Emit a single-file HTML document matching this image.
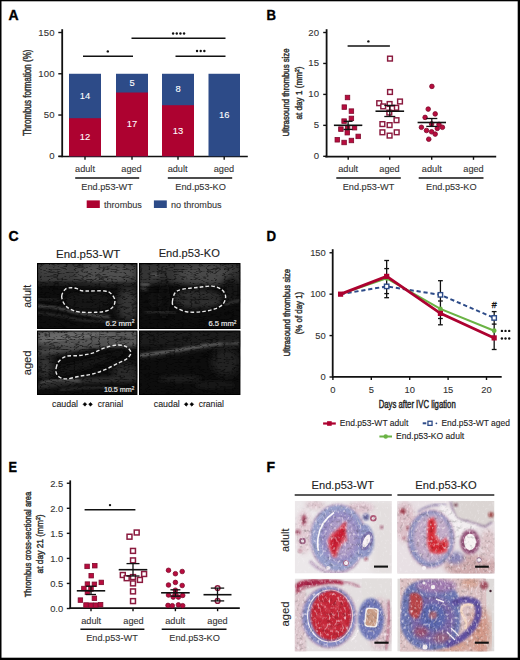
<!DOCTYPE html>
<html><head><meta charset="utf-8"><style>
html,body{margin:0;padding:0;background:#fff;width:520px;height:660px;overflow:hidden}
svg{display:block;font-family:"Liberation Sans",sans-serif}
</style></head><body>
<svg width="520" height="660" viewBox="0 0 520 660">
<defs><filter id="bl1" x="-20%" y="-20%" width="140%" height="140%"><feGaussianBlur stdDeviation="1"/></filter><filter id="bl2" x="-30%" y="-30%" width="160%" height="160%"><feGaussianBlur stdDeviation="2"/></filter><filter id="bl3" x="-40%" y="-40%" width="180%" height="180%"><feGaussianBlur stdDeviation="3.5"/></filter><filter id="bl5" x="-50%" y="-50%" width="200%" height="200%"><feGaussianBlur stdDeviation="5"/></filter><filter id="nz" x="0" y="0" width="100%" height="100%"><feTurbulence type="fractalNoise" baseFrequency="0.45" numOctaves="2" seed="7"/><feColorMatrix type="matrix" values="0 0 0 0 1 0 0 0 0 1 0 0 0 0 1 0 0 1.6 0 -0.75"/></filter><filter id="speck" x="0" y="0" width="100%" height="100%" color-interpolation-filters="sRGB"><feTurbulence type="turbulence" baseFrequency="0.12 0.3" numOctaves="2" seed="3" result="n00"/><feGaussianBlur in="n00" stdDeviation="0.5" result="n0"/><feColorMatrix in="n0" type="matrix" values="2.8 0 0 0 0.38 2.8 0 0 0 0.38 2.8 0 0 0 0.38 0 0 0 0 1" result="g"/><feComposite in="SourceGraphic" in2="g" operator="arithmetic" k1="1" k2="0" k3="0" k4="0"/></filter><filter id="nzk" x="0" y="0" width="100%" height="100%"><feTurbulence type="fractalNoise" baseFrequency="0.35" numOctaves="2" seed="11"/><feColorMatrix type="matrix" values="0 0 0 0 0 0 0 0 0 0 0 0 0 0 0 0 0 1.8 0 -0.8"/></filter><clipPath id="cp_c11"><rect x="37" y="263" width="100.5" height="66"/></clipPath><clipPath id="cp_c12"><rect x="139" y="263" width="101.5" height="66"/></clipPath><clipPath id="cp_c21"><rect x="37" y="330.5" width="100.5" height="64.5"/></clipPath><clipPath id="cp_c22"><rect x="139" y="330.5" width="101.5" height="64.5"/></clipPath><clipPath id="cp_f11"><rect x="294.7" y="501" width="97.1" height="72.5"/></clipPath><clipPath id="cp_f12"><rect x="397.3" y="501" width="97.2" height="72.5"/></clipPath><clipPath id="cp_f21"><rect x="294.7" y="578.5" width="97.1" height="73"/></clipPath><clipPath id="cp_f22"><rect x="397.3" y="578.5" width="97.2" height="73"/></clipPath><filter id="mot" x="0" y="0" width="100%" height="100%" color-interpolation-filters="sRGB"><feTurbulence type="fractalNoise" baseFrequency="0.3" numOctaves="2" seed="5" result="n0"/><feGaussianBlur in="n0" stdDeviation="0.4" result="n"/><feColorMatrix in="n" type="matrix" values="0.6 0 0 0 0.71 0.6 0 0 0 0.71 0.6 0 0 0 0.71 0 0 0 0 1" result="g"/><feComposite in="SourceGraphic" in2="g" operator="arithmetic" k1="1" k2="0" k3="0" k4="0" result="m"/><feTurbulence type="fractalNoise" baseFrequency="0.45 0.3" numOctaves="1" seed="8" result="n2"/><feColorMatrix in="n2" type="matrix" values="0 0 0 0 1 0 0 0 0 0.96 0 0 0 0 0.98 2.6 0 0 0 -1.45" result="w"/><feComposite in="w" in2="SourceAlpha" operator="in" result="w2"/><feMerge><feMergeNode in="m"/><feMergeNode in="w2"/></feMerge></filter><filter id="wsp" x="0" y="0" width="100%" height="100%"><feTurbulence type="fractalNoise" baseFrequency="0.4 0.3" numOctaves="2" seed="21"/><feColorMatrix type="matrix" values="0 0 0 0 1 0 0 0 0 0.97 0 0 0 0 1 2.2 0 0 0 -1.25"/></filter></defs>
<rect width="520" height="660" fill="#fff"/>
<text x="8.4" y="20.2" font-size="14" text-anchor="start" fill="#000" font-weight="bold" stroke="#000" stroke-width="0.35">A</text>
<text x="266.6" y="20.2" font-size="14" text-anchor="start" fill="#000" font-weight="bold" textLength="9.5" lengthAdjust="spacingAndGlyphs" stroke="#000" stroke-width="0.35">B</text>
<text x="8.5" y="240.6" font-size="14" text-anchor="start" fill="#000" font-weight="bold" stroke="#000" stroke-width="0.35">C</text>
<text x="266.6" y="240.5" font-size="14" text-anchor="start" fill="#000" font-weight="bold" textLength="9.6" lengthAdjust="spacingAndGlyphs" stroke="#000" stroke-width="0.35">D</text>
<text x="8.6" y="471.7" font-size="14" text-anchor="start" fill="#000" font-weight="bold" textLength="8.5" lengthAdjust="spacingAndGlyphs" stroke="#000" stroke-width="0.35">E</text>
<text x="266.6" y="471.7" font-size="14" text-anchor="start" fill="#000" font-weight="bold" stroke="#000" stroke-width="0.35">F</text>
<line x1="62.2" y1="29.2" x2="62.2" y2="157.2" stroke="#111" stroke-width="1.8" />
<line x1="58.5" y1="156.5" x2="247.8" y2="156.5" stroke="#111" stroke-width="1.7" />
<line x1="58.3" y1="156.3" x2="62" y2="156.3" stroke="#111" stroke-width="1.4" />
<text x="54.7" y="159.3" font-size="9.6" text-anchor="end" fill="#333" letter-spacing="0.15" stroke="#333" stroke-width="0.1">0</text>
<line x1="58.3" y1="115.03500000000001" x2="62" y2="115.03500000000001" stroke="#111" stroke-width="1.4" />
<text x="54.7" y="118.03500000000001" font-size="9.6" text-anchor="end" fill="#333" letter-spacing="0.15" stroke="#333" stroke-width="0.1">50</text>
<line x1="58.3" y1="73.77000000000001" x2="62" y2="73.77000000000001" stroke="#111" stroke-width="1.4" />
<text x="54.7" y="76.77000000000001" font-size="9.6" text-anchor="end" fill="#333" letter-spacing="0.15" stroke="#333" stroke-width="0.1">100</text>
<line x1="58.3" y1="32.50500000000001" x2="62" y2="32.50500000000001" stroke="#111" stroke-width="1.4" />
<text x="54.7" y="35.50500000000001" font-size="9.6" text-anchor="end" fill="#333" letter-spacing="0.15" stroke="#333" stroke-width="0.1">150</text>
<rect x="69" y="73.77000000000001" width="32" height="82.53" fill="#2d4b88" />
<rect x="69" y="118.20923076923077" width="32" height="38.09076923076924" fill="#ad0230" />
<text x="85.0" y="140.2546153846154" font-size="9.4" text-anchor="middle" fill="#fff"  stroke="#fff" stroke-width="0.1">12</text>
<text x="85.0" y="98.98961538461539" font-size="9.4" text-anchor="middle" fill="#fff"  stroke="#fff" stroke-width="0.1">14</text>
<rect x="116" y="73.77000000000001" width="32" height="82.53" fill="#2d4b88" />
<rect x="116" y="92.52681818181819" width="32" height="63.773181818181826" fill="#ad0230" />
<text x="132.0" y="127.4134090909091" font-size="9.4" text-anchor="middle" fill="#fff"  stroke="#fff" stroke-width="0.1">17</text>
<text x="132.0" y="86.1484090909091" font-size="9.4" text-anchor="middle" fill="#fff"  stroke="#fff" stroke-width="0.1">5</text>
<rect x="162" y="73.77000000000001" width="32" height="82.53" fill="#2d4b88" />
<rect x="162" y="105.21000000000001" width="32" height="51.09" fill="#ad0230" />
<text x="178.0" y="133.755" font-size="9.4" text-anchor="middle" fill="#fff"  stroke="#fff" stroke-width="0.1">13</text>
<text x="178.0" y="92.49000000000001" font-size="9.4" text-anchor="middle" fill="#fff"  stroke="#fff" stroke-width="0.1">8</text>
<rect x="208.5" y="73.77000000000001" width="31.5" height="82.53" fill="#2d4b88" />
<text x="224.25" y="118.03500000000001" font-size="9.4" text-anchor="middle" fill="#fff"  stroke="#fff" stroke-width="0.1">16</text>
<line x1="85" y1="156.5" x2="85" y2="159.8" stroke="#111" stroke-width="1.4" />
<line x1="132" y1="156.5" x2="132" y2="159.8" stroke="#111" stroke-width="1.4" />
<line x1="178" y1="156.5" x2="178" y2="159.8" stroke="#111" stroke-width="1.4" />
<line x1="224.2" y1="156.5" x2="224.2" y2="159.8" stroke="#111" stroke-width="1.4" />
<text x="85" y="172" font-size="9.2" text-anchor="middle" fill="#333"  stroke="#333" stroke-width="0.1">adult</text>
<text x="131.5" y="172" font-size="9.2" text-anchor="middle" fill="#333"  stroke="#333" stroke-width="0.1">aged</text>
<text x="177.6" y="172" font-size="9.2" text-anchor="middle" fill="#333"  stroke="#333" stroke-width="0.1">adult</text>
<text x="223.9" y="172" font-size="9.2" text-anchor="middle" fill="#333"  stroke="#333" stroke-width="0.1">aged</text>
<line x1="75.2" y1="178" x2="139.2" y2="178" stroke="#111" stroke-width="1.5" />
<line x1="167.8" y1="178" x2="232.2" y2="178" stroke="#111" stroke-width="1.5" />
<text x="107.1" y="190.3" font-size="9.2" text-anchor="middle" fill="#333"  stroke="#333" stroke-width="0.1">End.p53-WT</text>
<text x="200.6" y="190.3" font-size="9.2" text-anchor="middle" fill="#333"  stroke="#333" stroke-width="0.1">End.p53-KO</text>
<rect x="86.7" y="200.4" width="13.1" height="7.6" fill="#ad0230" />
<text x="104" y="207.6" font-size="9.1" text-anchor="start" fill="#333"  stroke="#333" stroke-width="0.1">thrombus</text>
<rect x="153.9" y="200.4" width="12.9" height="7.6" fill="#2d4b88" />
<text x="171" y="207.6" font-size="9.1" text-anchor="start" fill="#333"  stroke="#333" stroke-width="0.1">no thrombus</text>
<line x1="83" y1="56.2" x2="133" y2="56.2" stroke="#111" stroke-width="1.5" />
<line x1="131.5" y1="38.2" x2="225.5" y2="38.2" stroke="#111" stroke-width="1.5" />
<line x1="175.5" y1="56.2" x2="225.5" y2="56.2" stroke="#111" stroke-width="1.5" />
<circle cx="107.80" cy="51.4" r="1.2" fill="#111"/>
<circle cx="173.12" cy="33.5" r="1.2" fill="#111"/>
<circle cx="176.78" cy="33.5" r="1.2" fill="#111"/>
<circle cx="180.43" cy="33.5" r="1.2" fill="#111"/>
<circle cx="184.07" cy="33.5" r="1.2" fill="#111"/>
<circle cx="197.05" cy="51" r="1.2" fill="#111"/>
<circle cx="200.70" cy="51" r="1.2" fill="#111"/>
<circle cx="204.35" cy="51" r="1.2" fill="#111"/>
<text x="31" y="92.8" font-size="10" text-anchor="middle" fill="#333" textLength="86.5" lengthAdjust="spacingAndGlyphs" transform="rotate(-90 31 92.8)" stroke="#333" stroke-width="0.45">Thrombus formation (%)</text>
<line x1="326.6" y1="29.2" x2="326.6" y2="157.3" stroke="#111" stroke-width="1.8" />
<line x1="325.2" y1="156.6" x2="496.2" y2="156.6" stroke="#111" stroke-width="1.7" />
<line x1="323.2" y1="156.3" x2="326.6" y2="156.3" stroke="#111" stroke-width="1.4" />
<text x="319.3" y="159.3" font-size="9.6" text-anchor="end" fill="#333" letter-spacing="0.15" stroke="#333" stroke-width="0.1">0</text>
<line x1="323.2" y1="125.35000000000001" x2="326.6" y2="125.35000000000001" stroke="#111" stroke-width="1.4" />
<text x="319.3" y="128.35000000000002" font-size="9.6" text-anchor="end" fill="#333" letter-spacing="0.15" stroke="#333" stroke-width="0.1">5</text>
<line x1="323.2" y1="94.4" x2="326.6" y2="94.4" stroke="#111" stroke-width="1.4" />
<text x="319.3" y="97.4" font-size="9.6" text-anchor="end" fill="#333" letter-spacing="0.15" stroke="#333" stroke-width="0.1">10</text>
<line x1="323.2" y1="63.45" x2="326.6" y2="63.45" stroke="#111" stroke-width="1.4" />
<text x="319.3" y="66.45" font-size="9.6" text-anchor="end" fill="#333" letter-spacing="0.15" stroke="#333" stroke-width="0.1">15</text>
<line x1="323.2" y1="32.5" x2="326.6" y2="32.5" stroke="#111" stroke-width="1.4" />
<text x="319.3" y="35.5" font-size="9.6" text-anchor="end" fill="#333" letter-spacing="0.15" stroke="#333" stroke-width="0.1">20</text>
<line x1="348.2" y1="156.6" x2="348.2" y2="159.8" stroke="#111" stroke-width="1.4" />
<line x1="389.7" y1="156.6" x2="389.7" y2="159.8" stroke="#111" stroke-width="1.4" />
<line x1="431.7" y1="156.6" x2="431.7" y2="159.8" stroke="#111" stroke-width="1.4" />
<line x1="473.5" y1="156.6" x2="473.5" y2="159.8" stroke="#111" stroke-width="1.4" />
<text x="348.2" y="172.2" font-size="9.2" text-anchor="middle" fill="#333"  stroke="#333" stroke-width="0.1">adult</text>
<text x="389.5" y="172.2" font-size="9.2" text-anchor="middle" fill="#333"  stroke="#333" stroke-width="0.1">aged</text>
<text x="431.8" y="172.2" font-size="9.2" text-anchor="middle" fill="#333"  stroke="#333" stroke-width="0.1">adult</text>
<text x="473.5" y="172.2" font-size="9.2" text-anchor="middle" fill="#333"  stroke="#333" stroke-width="0.1">aged</text>
<line x1="336.3" y1="177.9" x2="400.8" y2="177.9" stroke="#111" stroke-width="1.5" />
<line x1="418.7" y1="177.9" x2="483.5" y2="177.9" stroke="#111" stroke-width="1.5" />
<text x="368.5" y="190.2" font-size="9.2" text-anchor="middle" fill="#333"  stroke="#333" stroke-width="0.1">End.p53-WT</text>
<text x="451.3" y="190.2" font-size="9.2" text-anchor="middle" fill="#333"  stroke="#333" stroke-width="0.1">End.p53-KO</text>
<text x="289.2" y="92.5" font-size="9.6" text-anchor="middle" fill="#333" textLength="88" lengthAdjust="spacingAndGlyphs" transform="rotate(-90 289.2 92.5)" stroke="#333" stroke-width="0.45">Ultrasound thrombus size</text>
<text x="302.4" y="93" font-size="9.6" text-anchor="middle" fill="#333" textLength="53" lengthAdjust="spacingAndGlyphs" transform="rotate(-90 302.4 93)" stroke="#333" stroke-width="0.45">at day 1 (mm<tspan font-size="6" dy="-3.5">2</tspan><tspan dy="3.5">)</tspan></text>
<line x1="347.6" y1="46.1" x2="389.9" y2="46.1" stroke="#111" stroke-width="1.5" />
<circle cx="368.40" cy="41.4" r="1.2" fill="#111"/>
<rect x="345.25" y="95.25" width="4.50" height="4.50" fill="#b80c3e" stroke="#7e0a2c" stroke-width="0.8"/>
<rect x="342.05" y="104.85" width="4.50" height="4.50" fill="#b80c3e" stroke="#7e0a2c" stroke-width="0.8"/>
<rect x="349.15" y="108.85" width="4.50" height="4.50" fill="#b80c3e" stroke="#7e0a2c" stroke-width="0.8"/>
<rect x="349.15" y="116.15" width="4.50" height="4.50" fill="#b80c3e" stroke="#7e0a2c" stroke-width="0.8"/>
<rect x="341.85" y="118.85" width="4.50" height="4.50" fill="#b80c3e" stroke="#7e0a2c" stroke-width="0.8"/>
<rect x="338.65" y="126.85" width="4.50" height="4.50" fill="#b80c3e" stroke="#7e0a2c" stroke-width="0.8"/>
<rect x="345.35" y="125.25" width="4.50" height="4.50" fill="#b80c3e" stroke="#7e0a2c" stroke-width="0.8"/>
<rect x="352.25" y="125.45" width="4.50" height="4.50" fill="#b80c3e" stroke="#7e0a2c" stroke-width="0.8"/>
<rect x="345.05" y="130.45" width="4.50" height="4.50" fill="#b80c3e" stroke="#7e0a2c" stroke-width="0.8"/>
<rect x="355.95" y="134.15" width="4.50" height="4.50" fill="#b80c3e" stroke="#7e0a2c" stroke-width="0.8"/>
<rect x="335.05" y="137.55" width="4.50" height="4.50" fill="#b80c3e" stroke="#7e0a2c" stroke-width="0.8"/>
<rect x="341.85" y="140.25" width="4.50" height="4.50" fill="#b80c3e" stroke="#7e0a2c" stroke-width="0.8"/>
<rect x="349.15" y="138.25" width="4.50" height="4.50" fill="#b80c3e" stroke="#7e0a2c" stroke-width="0.8"/>
<line x1="333.90000000000003" y1="125.3" x2="362.3" y2="125.3" stroke="#111" stroke-width="1.6" />
<line x1="348.1" y1="121.3" x2="348.1" y2="129.4" stroke="#111" stroke-width="1.3" />
<line x1="343.6" y1="121.3" x2="352.6" y2="121.3" stroke="#111" stroke-width="1.3" />
<line x1="343.6" y1="129.4" x2="352.6" y2="129.4" stroke="#111" stroke-width="1.3" />
<rect x="387.62" y="56.23" width="4.75" height="4.75" fill="#fff" stroke="#8a1a3e" stroke-width="1.45"/>
<rect x="387.62" y="89.62" width="4.75" height="4.75" fill="#fff" stroke="#8a1a3e" stroke-width="1.45"/>
<rect x="376.82" y="100.83" width="4.75" height="4.75" fill="#fff" stroke="#8a1a3e" stroke-width="1.45"/>
<rect x="397.62" y="99.12" width="4.75" height="4.75" fill="#fff" stroke="#8a1a3e" stroke-width="1.45"/>
<rect x="380.82" y="104.03" width="4.75" height="4.75" fill="#fff" stroke="#8a1a3e" stroke-width="1.45"/>
<rect x="387.23" y="101.62" width="4.75" height="4.75" fill="#fff" stroke="#8a1a3e" stroke-width="1.45"/>
<rect x="393.82" y="105.42" width="4.75" height="4.75" fill="#fff" stroke="#8a1a3e" stroke-width="1.45"/>
<rect x="389.73" y="105.92" width="4.75" height="4.75" fill="#fff" stroke="#8a1a3e" stroke-width="1.45"/>
<rect x="386.93" y="110.22" width="4.75" height="4.75" fill="#fff" stroke="#8a1a3e" stroke-width="1.45"/>
<rect x="394.12" y="117.83" width="4.75" height="4.75" fill="#fff" stroke="#8a1a3e" stroke-width="1.45"/>
<rect x="380.02" y="121.72" width="4.75" height="4.75" fill="#fff" stroke="#8a1a3e" stroke-width="1.45"/>
<rect x="387.23" y="122.72" width="4.75" height="4.75" fill="#fff" stroke="#8a1a3e" stroke-width="1.45"/>
<rect x="380.02" y="129.93" width="4.75" height="4.75" fill="#fff" stroke="#8a1a3e" stroke-width="1.45"/>
<rect x="394.32" y="129.93" width="4.75" height="4.75" fill="#fff" stroke="#8a1a3e" stroke-width="1.45"/>
<rect x="387.23" y="133.22" width="4.75" height="4.75" fill="#fff" stroke="#8a1a3e" stroke-width="1.45"/>
<line x1="375.5" y1="111.2" x2="404.1" y2="111.2" stroke="#111" stroke-width="1.6" />
<line x1="389.8" y1="105.4" x2="389.8" y2="116.5" stroke="#111" stroke-width="1.3" />
<line x1="384.3" y1="105.4" x2="395.3" y2="105.4" stroke="#111" stroke-width="1.3" />
<line x1="384.3" y1="116.5" x2="395.3" y2="116.5" stroke="#111" stroke-width="1.3" />
<circle cx="431.9" cy="86.4" r="2.30" fill="#b80c3e" stroke="#7e0a2c" stroke-width="0.8"/>
<circle cx="428.2" cy="109.1" r="2.30" fill="#b80c3e" stroke="#7e0a2c" stroke-width="0.8"/>
<circle cx="435.2" cy="113.9" r="2.30" fill="#b80c3e" stroke="#7e0a2c" stroke-width="0.8"/>
<circle cx="425.1" cy="117.4" r="2.30" fill="#b80c3e" stroke="#7e0a2c" stroke-width="0.8"/>
<circle cx="421.4" cy="127.3" r="2.30" fill="#b80c3e" stroke="#7e0a2c" stroke-width="0.8"/>
<circle cx="426.5" cy="130.5" r="2.30" fill="#b80c3e" stroke="#7e0a2c" stroke-width="0.8"/>
<circle cx="431.6" cy="131.8" r="2.30" fill="#b80c3e" stroke="#7e0a2c" stroke-width="0.8"/>
<circle cx="435.2" cy="134.1" r="2.30" fill="#b80c3e" stroke="#7e0a2c" stroke-width="0.8"/>
<circle cx="437.3" cy="128.4" r="2.30" fill="#b80c3e" stroke="#7e0a2c" stroke-width="0.8"/>
<circle cx="442.4" cy="127.3" r="2.30" fill="#b80c3e" stroke="#7e0a2c" stroke-width="0.8"/>
<circle cx="439" cy="124.4" r="2.30" fill="#b80c3e" stroke="#7e0a2c" stroke-width="0.8"/>
<circle cx="428.75" cy="139.2" r="2.30" fill="#b80c3e" stroke="#7e0a2c" stroke-width="0.8"/>
<circle cx="431.6" cy="123.9" r="2.30" fill="#b80c3e" stroke="#7e0a2c" stroke-width="0.8"/>
<line x1="417.6" y1="122.5" x2="446.0" y2="122.5" stroke="#111" stroke-width="1.6" />
<line x1="431.8" y1="118.5" x2="431.8" y2="126.4" stroke="#111" stroke-width="1.3" />
<line x1="426.3" y1="118.5" x2="437.3" y2="118.5" stroke="#111" stroke-width="1.3" />
<line x1="426.3" y1="126.4" x2="437.3" y2="126.4" stroke="#111" stroke-width="1.3" />
<text x="88.2" y="257.7" font-size="11.2" text-anchor="middle" fill="#222" textLength="64.3" lengthAdjust="spacingAndGlyphs"  stroke="#222" stroke-width="0.1">End.p53-WT</text>
<text x="189.3" y="257.0" font-size="11.2" text-anchor="middle" fill="#222" textLength="61.2" lengthAdjust="spacingAndGlyphs"  stroke="#222" stroke-width="0.1">End.p53-KO</text>
<text x="31.3" y="296.3" font-size="10.6" text-anchor="middle" fill="#222" transform="rotate(-90 31.3 296.3)"  stroke="#222" stroke-width="0.1">adult</text>
<text x="30.6" y="362.9" font-size="11.1" text-anchor="middle" fill="#222" transform="rotate(-90 30.6 362.9)"  stroke="#222" stroke-width="0.1">aged</text>
<text x="52" y="406.8" font-size="8.9" text-anchor="start" fill="#222" textLength="26" lengthAdjust="spacingAndGlyphs"  stroke="#222" stroke-width="0.1">caudal</text>
<path d="M83.00,404.3 L84.90,402.4 L86.80,404.3 L84.90,406.2 Z" fill="#000" stroke="#000" stroke-width="0.5" stroke-linejoin="round"/>
<path d="M88.60,404.3 L90.50,402.4 L92.40,404.3 L90.50,406.2 Z" fill="#000" stroke="#000" stroke-width="0.5" stroke-linejoin="round"/>
<text x="97.8" y="406.8" font-size="8.9" text-anchor="start" fill="#222" textLength="25.3" lengthAdjust="spacingAndGlyphs"  stroke="#222" stroke-width="0.1">cranial</text>
<text x="153.8" y="406.8" font-size="8.9" text-anchor="start" fill="#222" textLength="26" lengthAdjust="spacingAndGlyphs"  stroke="#222" stroke-width="0.1">caudal</text>
<path d="M184.30,404.3 L186.20,402.4 L188.10,404.3 L186.20,406.2 Z" fill="#000" stroke="#000" stroke-width="0.5" stroke-linejoin="round"/>
<path d="M189.90,404.3 L191.80,402.4 L193.70,404.3 L191.80,406.2 Z" fill="#000" stroke="#000" stroke-width="0.5" stroke-linejoin="round"/>
<text x="198.7" y="406.8" font-size="8.9" text-anchor="start" fill="#222" textLength="25.3" lengthAdjust="spacingAndGlyphs"  stroke="#222" stroke-width="0.1">cranial</text>
<line x1="332.7" y1="249.2" x2="332.7" y2="377.6" stroke="#111" stroke-width="1.8" />
<line x1="332.2" y1="376.9" x2="501.7" y2="376.9" stroke="#111" stroke-width="1.7" />
<line x1="329.5" y1="377.0" x2="333" y2="377.0" stroke="#111" stroke-width="1.4" />
<text x="325.8" y="380.3" font-size="9.4" text-anchor="end" fill="#333"  stroke="#333" stroke-width="0.1">0</text>
<line x1="329.5" y1="335.585" x2="333" y2="335.585" stroke="#111" stroke-width="1.4" />
<text x="325.8" y="338.885" font-size="9.4" text-anchor="end" fill="#333"  stroke="#333" stroke-width="0.1">50</text>
<line x1="329.5" y1="294.17" x2="333" y2="294.17" stroke="#111" stroke-width="1.4" />
<text x="325.8" y="297.47" font-size="9.4" text-anchor="end" fill="#333"  stroke="#333" stroke-width="0.1">100</text>
<line x1="329.5" y1="252.755" x2="333" y2="252.755" stroke="#111" stroke-width="1.4" />
<text x="325.8" y="256.055" font-size="9.4" text-anchor="end" fill="#333"  stroke="#333" stroke-width="0.1">150</text>
<line x1="332.9" y1="376.9" x2="332.9" y2="380" stroke="#111" stroke-width="1.4" />
<text x="332.9" y="393.2" font-size="9.4" text-anchor="middle" fill="#333"  stroke="#333" stroke-width="0.1">0</text>
<line x1="371.29999999999995" y1="376.9" x2="371.29999999999995" y2="380" stroke="#111" stroke-width="1.4" />
<text x="371.29999999999995" y="393.2" font-size="9.4" text-anchor="middle" fill="#333"  stroke="#333" stroke-width="0.1">5</text>
<line x1="409.7" y1="376.9" x2="409.7" y2="380" stroke="#111" stroke-width="1.4" />
<text x="409.7" y="393.2" font-size="9.4" text-anchor="middle" fill="#333"  stroke="#333" stroke-width="0.1">10</text>
<line x1="448.09999999999997" y1="376.9" x2="448.09999999999997" y2="380" stroke="#111" stroke-width="1.4" />
<text x="448.09999999999997" y="393.2" font-size="9.4" text-anchor="middle" fill="#333"  stroke="#333" stroke-width="0.1">15</text>
<line x1="486.5" y1="376.9" x2="486.5" y2="380" stroke="#111" stroke-width="1.4" />
<text x="486.5" y="393.2" font-size="9.4" text-anchor="middle" fill="#333"  stroke="#333" stroke-width="0.1">20</text>
<text x="417.2" y="407.5" font-size="10" text-anchor="middle" fill="#222" textLength="77" lengthAdjust="spacingAndGlyphs" stroke="#222" stroke-width="0.4">Days after IVC ligation</text>
<text x="290.2" y="312.7" font-size="9.6" text-anchor="middle" fill="#333" textLength="87.7" lengthAdjust="spacingAndGlyphs" transform="rotate(-90 290.2 312.7)" stroke="#333" stroke-width="0.45">Ultrasound thrombus size</text>
<text x="301.7" y="313" font-size="9.6" text-anchor="middle" fill="#333" textLength="42.5" lengthAdjust="spacingAndGlyphs" transform="rotate(-90 301.7 313)" stroke="#333" stroke-width="0.45">(% of day 1)</text>
<line x1="386.65999999999997" y1="260.5" x2="386.65999999999997" y2="297.7" stroke="#111" stroke-width="1.3" />
<line x1="384.26" y1="260.5" x2="389.05999999999995" y2="260.5" stroke="#111" stroke-width="1.3" />
<line x1="384.26" y1="297.7" x2="389.05999999999995" y2="297.7" stroke="#111" stroke-width="1.3" />
<line x1="384.26" y1="268.6" x2="389.05999999999995" y2="268.6" stroke="#111" stroke-width="1.3" />
<line x1="384.26" y1="293.6" x2="389.05999999999995" y2="293.6" stroke="#111" stroke-width="1.3" />
<line x1="440.41999999999996" y1="280.7" x2="440.41999999999996" y2="324.8" stroke="#111" stroke-width="1.3" />
<line x1="438.02" y1="280.7" x2="442.81999999999994" y2="280.7" stroke="#111" stroke-width="1.3" />
<line x1="438.02" y1="324.8" x2="442.81999999999994" y2="324.8" stroke="#111" stroke-width="1.3" />
<line x1="438.02" y1="301" x2="442.81999999999994" y2="301" stroke="#111" stroke-width="1.3" />
<line x1="438.02" y1="318.5" x2="442.81999999999994" y2="318.5" stroke="#111" stroke-width="1.3" />
<line x1="494.17999999999995" y1="311.6" x2="494.17999999999995" y2="349.5" stroke="#111" stroke-width="1.3" />
<line x1="491.78" y1="311.6" x2="496.5799999999999" y2="311.6" stroke="#111" stroke-width="1.3" />
<line x1="491.78" y1="349.5" x2="496.5799999999999" y2="349.5" stroke="#111" stroke-width="1.3" />
<line x1="491.78" y1="324.1" x2="496.5799999999999" y2="324.1" stroke="#111" stroke-width="1.3" />
<polyline points="340.58,294.17 386.66,286.38 440.42,294.83 494.18,317.94" fill="none" stroke="#2d4b88" stroke-width="2" stroke-dasharray="4.2,2.8"/>
<polyline points="340.58,294.17 386.66,278.27 440.42,308.91 494.18,330.70" fill="none" stroke="#6ab344" stroke-width="2"/>
<polyline points="340.58,294.17 386.66,276.36 440.42,313.39 494.18,337.90" fill="none" stroke="#ad0230" stroke-width="2.8"/>
<circle cx="386.65999999999997" cy="278.26664" r="2.4" fill="#6ab344"/>
<circle cx="440.41999999999996" cy="308.91373999999996" r="2.4" fill="#6ab344"/>
<circle cx="494.17999999999995" cy="330.69803" r="2.4" fill="#6ab344"/>
<rect x="384.46" y="284.18" width="4.4" height="4.4" fill="#fff" stroke="#2d4b88" stroke-width="1.4"/>
<rect x="438.22" y="292.63" width="4.4" height="4.4" fill="#fff" stroke="#2d4b88" stroke-width="1.4"/>
<rect x="491.98" y="315.74" width="4.4" height="4.4" fill="#fff" stroke="#2d4b88" stroke-width="1.4"/>
<rect x="337.98" y="291.57" width="5.2" height="5.2" fill="#ad0230"/>
<rect x="384.06" y="273.76" width="5.2" height="5.2" fill="#ad0230"/>
<rect x="437.82" y="310.79" width="5.2" height="5.2" fill="#ad0230"/>
<rect x="491.58" y="335.30" width="5.2" height="5.2" fill="#ad0230"/>
<text x="494.2" y="307.6" font-size="9" text-anchor="middle" fill="#111" stroke="#111" stroke-width="0.3">#</text>
<circle cx="501.9" cy="330.9" r="1.2" fill="#111"/>
<circle cx="505.5" cy="330.9" r="1.2" fill="#111"/>
<circle cx="509.2" cy="330.9" r="1.2" fill="#111"/>
<circle cx="501.9" cy="338.5" r="1.2" fill="#111"/>
<circle cx="505.5" cy="338.5" r="1.2" fill="#111"/>
<circle cx="509.2" cy="338.5" r="1.2" fill="#111"/>
<line x1="323.1" y1="423.5" x2="335.8" y2="423.5" stroke="#ad0230" stroke-width="2.2" />
<rect x="327.10" y="421.20" width="4.6" height="4.6" fill="#ad0230"/>
<text x="339.8" y="426.2" font-size="9" text-anchor="start" fill="#222" textLength="68.5" lengthAdjust="spacingAndGlyphs"  stroke="#222" stroke-width="0.1">End.p53-WT adult</text>
<line x1="422.7" y1="423.3" x2="426.3" y2="423.3" stroke="#2d4b88" stroke-width="2" />
<rect x="427.95" y="421.25" width="4.1000000000000005" height="4.1000000000000005" fill="#fff" stroke="#2d4b88" stroke-width="1.3"/>
<circle cx="436.4" cy="423.3" r="0.9" fill="#2d4b88"/>
<text x="441.4" y="426.1" font-size="9" text-anchor="start" fill="#222" textLength="68.5" lengthAdjust="spacingAndGlyphs"  stroke="#222" stroke-width="0.1">End.p53-WT aged</text>
<line x1="379.4" y1="436.5" x2="392" y2="436.5" stroke="#6ab344" stroke-width="2" />
<circle cx="385.7" cy="436.5" r="2.2" fill="#6ab344"/>
<text x="396" y="439.3" font-size="9" text-anchor="start" fill="#222" textLength="68.2" lengthAdjust="spacingAndGlyphs"  stroke="#222" stroke-width="0.1">End.p53-KO adult</text>
<line x1="70.2" y1="480.4" x2="70.2" y2="609" stroke="#111" stroke-width="1.8" />
<line x1="69.4" y1="608.2" x2="239.8" y2="608.2" stroke="#111" stroke-width="1.8" />
<line x1="66.8" y1="608.5" x2="70.2" y2="608.5" stroke="#111" stroke-width="1.4" />
<text x="63.2" y="611.8" font-size="9.4" text-anchor="end" fill="#333"  stroke="#333" stroke-width="0.1">0.0</text>
<line x1="66.8" y1="583.45" x2="70.2" y2="583.45" stroke="#111" stroke-width="1.4" />
<text x="63.2" y="586.75" font-size="9.4" text-anchor="end" fill="#333"  stroke="#333" stroke-width="0.1">0.5</text>
<line x1="66.8" y1="558.4" x2="70.2" y2="558.4" stroke="#111" stroke-width="1.4" />
<text x="63.2" y="561.6999999999999" font-size="9.4" text-anchor="end" fill="#333"  stroke="#333" stroke-width="0.1">1.0</text>
<line x1="66.8" y1="533.35" x2="70.2" y2="533.35" stroke="#111" stroke-width="1.4" />
<text x="63.2" y="536.65" font-size="9.4" text-anchor="end" fill="#333"  stroke="#333" stroke-width="0.1">1.5</text>
<line x1="66.8" y1="508.3" x2="70.2" y2="508.3" stroke="#111" stroke-width="1.4" />
<text x="63.2" y="511.6" font-size="9.4" text-anchor="end" fill="#333"  stroke="#333" stroke-width="0.1">2.0</text>
<line x1="66.8" y1="483.25" x2="70.2" y2="483.25" stroke="#111" stroke-width="1.4" />
<text x="63.2" y="486.55" font-size="9.4" text-anchor="end" fill="#333"  stroke="#333" stroke-width="0.1">2.5</text>
<line x1="91" y1="608" x2="91" y2="611.2" stroke="#111" stroke-width="1.4" />
<line x1="133" y1="608" x2="133" y2="611.2" stroke="#111" stroke-width="1.4" />
<line x1="175.4" y1="608" x2="175.4" y2="611.2" stroke="#111" stroke-width="1.4" />
<line x1="217.6" y1="608" x2="217.6" y2="611.2" stroke="#111" stroke-width="1.4" />
<text x="91.2" y="623.6" font-size="9.2" text-anchor="middle" fill="#333"  stroke="#333" stroke-width="0.1">adult</text>
<text x="133.5" y="623.6" font-size="9.2" text-anchor="middle" fill="#333"  stroke="#333" stroke-width="0.1">aged</text>
<text x="175.2" y="623.6" font-size="9.2" text-anchor="middle" fill="#333"  stroke="#333" stroke-width="0.1">adult</text>
<text x="217.5" y="623.6" font-size="9.2" text-anchor="middle" fill="#333"  stroke="#333" stroke-width="0.1">aged</text>
<line x1="80.4" y1="629.2" x2="144.4" y2="629.2" stroke="#111" stroke-width="1.5" />
<line x1="161.7" y1="629.2" x2="226.5" y2="629.2" stroke="#111" stroke-width="1.5" />
<text x="112" y="641.3" font-size="9.2" text-anchor="middle" fill="#333"  stroke="#333" stroke-width="0.1">End.p53-WT</text>
<text x="194.6" y="641.3" font-size="9.2" text-anchor="middle" fill="#333"  stroke="#333" stroke-width="0.1">End.p53-KO</text>
<text x="31.2" y="544.5" font-size="9.6" text-anchor="middle" fill="#333" textLength="105.7" lengthAdjust="spacingAndGlyphs" transform="rotate(-90 31.2 544.5)" stroke="#333" stroke-width="0.45">Thrombus cross-sectional area</text>
<text x="43.4" y="543.9" font-size="9.6" text-anchor="middle" fill="#333" textLength="59" lengthAdjust="spacingAndGlyphs" transform="rotate(-90 43.4 543.9)" stroke="#333" stroke-width="0.45">at day 21 (mm<tspan font-size="6" dy="-3.5">2</tspan><tspan dy="3.5">)</tspan></text>
<line x1="84.6" y1="509.8" x2="135.4" y2="509.8" stroke="#111" stroke-width="1.6" />
<circle cx="110.00" cy="505.1" r="1.2" fill="#111"/>
<rect x="84.85" y="564.15" width="4.50" height="4.50" fill="#b80c3e" stroke="#7e0a2c" stroke-width="0.8"/>
<rect x="92.55" y="563.45" width="4.50" height="4.50" fill="#b80c3e" stroke="#7e0a2c" stroke-width="0.8"/>
<rect x="88.95" y="573.45" width="4.50" height="4.50" fill="#b80c3e" stroke="#7e0a2c" stroke-width="0.8"/>
<rect x="99.05" y="580.15" width="4.50" height="4.50" fill="#b80c3e" stroke="#7e0a2c" stroke-width="0.8"/>
<rect x="85.15" y="581.85" width="4.50" height="4.50" fill="#b80c3e" stroke="#7e0a2c" stroke-width="0.8"/>
<rect x="92.15" y="582.05" width="4.50" height="4.50" fill="#b80c3e" stroke="#7e0a2c" stroke-width="0.8"/>
<rect x="81.65" y="586.25" width="4.50" height="4.50" fill="#b80c3e" stroke="#7e0a2c" stroke-width="0.8"/>
<rect x="85.15" y="590.15" width="4.50" height="4.50" fill="#b80c3e" stroke="#7e0a2c" stroke-width="0.8"/>
<rect x="92.15" y="596.05" width="4.50" height="4.50" fill="#b80c3e" stroke="#7e0a2c" stroke-width="0.8"/>
<rect x="78.15" y="597.85" width="4.50" height="4.50" fill="#b80c3e" stroke="#7e0a2c" stroke-width="0.8"/>
<rect x="83.75" y="602.75" width="4.50" height="4.50" fill="#b80c3e" stroke="#7e0a2c" stroke-width="0.8"/>
<rect x="88.65" y="602.95" width="4.50" height="4.50" fill="#b80c3e" stroke="#7e0a2c" stroke-width="0.8"/>
<rect x="93.55" y="602.95" width="4.50" height="4.50" fill="#b80c3e" stroke="#7e0a2c" stroke-width="0.8"/>
<rect x="98.35" y="602.45" width="4.50" height="4.50" fill="#b80c3e" stroke="#7e0a2c" stroke-width="0.8"/>
<rect x="88.75" y="586.75" width="4.50" height="4.50" fill="#b80c3e" stroke="#7e0a2c" stroke-width="0.8"/>
<line x1="76.8" y1="590.8" x2="105.2" y2="590.8" stroke="#111" stroke-width="1.6" />
<line x1="91" y1="586.2" x2="91" y2="594.5" stroke="#111" stroke-width="1.3" />
<line x1="86" y1="586.2" x2="96" y2="586.2" stroke="#111" stroke-width="1.3" />
<line x1="86" y1="594.5" x2="96" y2="594.5" stroke="#111" stroke-width="1.3" />
<rect x="134.25" y="530.05" width="4.9" height="4.9" fill="#fff" stroke="#8a1a3e" stroke-width="1.5"/>
<rect x="127.05" y="534.25" width="4.9" height="4.9" fill="#fff" stroke="#8a1a3e" stroke-width="1.5"/>
<rect x="130.55" y="548.45" width="4.9" height="4.9" fill="#fff" stroke="#8a1a3e" stroke-width="1.5"/>
<rect x="130.55" y="557.95" width="4.9" height="4.9" fill="#fff" stroke="#8a1a3e" stroke-width="1.5"/>
<rect x="120.35" y="572.55" width="4.9" height="4.9" fill="#fff" stroke="#8a1a3e" stroke-width="1.5"/>
<rect x="124.25" y="575.75" width="4.9" height="4.9" fill="#fff" stroke="#8a1a3e" stroke-width="1.5"/>
<rect x="130.55" y="574.65" width="4.9" height="4.9" fill="#fff" stroke="#8a1a3e" stroke-width="1.5"/>
<rect x="141.65" y="571.55" width="4.9" height="4.9" fill="#fff" stroke="#8a1a3e" stroke-width="1.5"/>
<rect x="137.45" y="577.45" width="4.9" height="4.9" fill="#fff" stroke="#8a1a3e" stroke-width="1.5"/>
<rect x="130.55" y="580.95" width="4.9" height="4.9" fill="#fff" stroke="#8a1a3e" stroke-width="1.5"/>
<rect x="130.55" y="588.95" width="4.9" height="4.9" fill="#fff" stroke="#8a1a3e" stroke-width="1.5"/>
<rect x="130.55" y="598.65" width="4.9" height="4.9" fill="#fff" stroke="#8a1a3e" stroke-width="1.5"/>
<line x1="118.7" y1="569.7" x2="147.3" y2="569.7" stroke="#111" stroke-width="1.6" />
<line x1="133" y1="563.6" x2="133" y2="576" stroke="#111" stroke-width="1.3" />
<line x1="126.5" y1="563.6" x2="139.5" y2="563.6" stroke="#111" stroke-width="1.3" />
<line x1="126.5" y1="576" x2="139.5" y2="576" stroke="#111" stroke-width="1.3" />
<circle cx="168.5" cy="570.3" r="2.30" fill="#b80c3e" stroke="#7e0a2c" stroke-width="0.8"/>
<circle cx="175.4" cy="573.7" r="2.30" fill="#b80c3e" stroke="#7e0a2c" stroke-width="0.8"/>
<circle cx="182.2" cy="571.5" r="2.30" fill="#b80c3e" stroke="#7e0a2c" stroke-width="0.8"/>
<circle cx="168.5" cy="585" r="2.30" fill="#b80c3e" stroke="#7e0a2c" stroke-width="0.8"/>
<circle cx="175.4" cy="582.4" r="2.30" fill="#b80c3e" stroke="#7e0a2c" stroke-width="0.8"/>
<circle cx="182.2" cy="585.5" r="2.30" fill="#b80c3e" stroke="#7e0a2c" stroke-width="0.8"/>
<circle cx="175.4" cy="590.2" r="2.30" fill="#b80c3e" stroke="#7e0a2c" stroke-width="0.8"/>
<circle cx="168.5" cy="595" r="2.30" fill="#b80c3e" stroke="#7e0a2c" stroke-width="0.8"/>
<circle cx="173.2" cy="597.1" r="2.30" fill="#b80c3e" stroke="#7e0a2c" stroke-width="0.8"/>
<circle cx="178.4" cy="597.1" r="2.30" fill="#b80c3e" stroke="#7e0a2c" stroke-width="0.8"/>
<circle cx="182.7" cy="595.4" r="2.30" fill="#b80c3e" stroke="#7e0a2c" stroke-width="0.8"/>
<circle cx="168" cy="605.4" r="2.30" fill="#b80c3e" stroke="#7e0a2c" stroke-width="0.8"/>
<circle cx="172.3" cy="605.7" r="2.30" fill="#b80c3e" stroke="#7e0a2c" stroke-width="0.8"/>
<circle cx="178.4" cy="604.9" r="2.30" fill="#b80c3e" stroke="#7e0a2c" stroke-width="0.8"/>
<circle cx="182.7" cy="605.7" r="2.30" fill="#b80c3e" stroke="#7e0a2c" stroke-width="0.8"/>
<circle cx="175.4" cy="594.5" r="2.30" fill="#b80c3e" stroke="#7e0a2c" stroke-width="0.8"/>
<line x1="161.1" y1="592.8" x2="189.70000000000002" y2="592.8" stroke="#111" stroke-width="1.6" />
<line x1="175.4" y1="589.8" x2="175.4" y2="596.2" stroke="#111" stroke-width="1.3" />
<line x1="170.4" y1="589.8" x2="180.4" y2="589.8" stroke="#111" stroke-width="1.3" />
<line x1="170.4" y1="596.2" x2="180.4" y2="596.2" stroke="#111" stroke-width="1.3" />
<circle cx="217.6" cy="588.1" r="2.4000000000000004" fill="#fff" stroke="#8a1a3e" stroke-width="1.4"/>
<circle cx="217.6" cy="600.9" r="2.4000000000000004" fill="#fff" stroke="#8a1a3e" stroke-width="1.4"/>
<line x1="203.5" y1="594.7" x2="231.5" y2="594.7" stroke="#111" stroke-width="1.6" />
<line x1="217.5" y1="588.1" x2="217.5" y2="600.9" stroke="#111" stroke-width="1.3" />
<line x1="210.8" y1="588.1" x2="224.2" y2="588.1" stroke="#111" stroke-width="1.3" />
<line x1="210.8" y1="600.9" x2="224.2" y2="600.9" stroke="#111" stroke-width="1.3" />
<text x="342.8" y="488.7" font-size="11" text-anchor="middle" fill="#222" textLength="62.4" lengthAdjust="spacingAndGlyphs"  stroke="#222" stroke-width="0.1">End.p53-WT</text>
<text x="446" y="488.6" font-size="11" text-anchor="middle" fill="#222" textLength="61.5" lengthAdjust="spacingAndGlyphs"  stroke="#222" stroke-width="0.1">End.p53-KO</text>
<line x1="294.7" y1="495" x2="391.8" y2="495" stroke="#222" stroke-width="1.6" />
<line x1="397.4" y1="495" x2="494.3" y2="495" stroke="#222" stroke-width="1.6" />
<text x="289.3" y="540.3" font-size="10.9" text-anchor="middle" fill="#222" transform="rotate(-90 289.3 540.3)"  stroke="#222" stroke-width="0.1">adult</text>
<text x="288.7" y="613.9" font-size="11.3" text-anchor="middle" fill="#222" transform="rotate(-90 288.7 613.9)"  stroke="#222" stroke-width="0.1">aged</text>
<g clip-path="url(#cp_c11)">
<g filter="url(#speck)">
<rect x="37" y="263" width="100.5" height="66" fill="#0d0d0d"/>

<rect x="37" y="263" width="101" height="21" fill="#3a3a3a" filter="url(#bl2)"/>
<ellipse cx="105" cy="273" rx="30" ry="10" fill="#505050" filter="url(#bl3)"/>
<ellipse cx="55" cy="268" rx="18" ry="5" fill="#444" filter="url(#bl3)"/>
<path d="M37,284 Q80,281 138,288" stroke="#181818" stroke-width="3" fill="none" filter="url(#bl2)"/>
<ellipse cx="128" cy="304" rx="11" ry="17" fill="#343434" filter="url(#bl3)"/>
<path d="M37,306 Q55,306.5 70,311 Q85,315 110,317" stroke="#5a5a5a" stroke-width="2" fill="none" filter="url(#bl1)"/>
<path d="M37,313 Q55,314 75,319 Q95,322 125,321" stroke="#303030" stroke-width="2" fill="none" filter="url(#bl1)"/>
<path d="M37,299 Q50,298 60,301" stroke="#333" stroke-width="1.5" fill="none" filter="url(#bl1)"/>
<ellipse cx="88" cy="301" rx="24" ry="9" fill="#161616" filter="url(#bl2)"/>

</g>
<path d="M61.70,296.20 C61.82,293.73 63.52,290.82 65.10,289.40 C66.68,287.98 69.18,287.82 71.20,287.70 C73.22,287.58 75.42,288.18 77.20,288.70 C78.98,289.22 79.77,290.42 81.90,290.80 C84.03,291.18 86.18,290.97 90.00,291.00 C93.82,291.03 101.32,290.58 104.80,291.00 C108.28,291.42 109.22,291.97 110.90,293.50 C112.58,295.03 114.57,297.97 114.90,300.20 C115.23,302.43 114.37,305.10 112.90,306.90 C111.43,308.70 109.02,310.10 106.10,311.00 C103.18,311.90 99.88,312.13 95.40,312.30 C90.92,312.47 83.47,312.57 79.20,312.00 C74.93,311.43 72.27,310.20 69.80,308.90 C67.33,307.60 65.75,306.32 64.40,304.20 C63.05,302.08 61.58,298.67 61.70,296.20 Z" fill="none" stroke="#e8e8e8" stroke-width="1.4" stroke-dasharray="3.6,2.2"/>
<rect x="37.5" y="263.5" width="99.5" height="65" fill="none" stroke="#000" stroke-width="1"/>
</g>
<text x="134.4" y="325.6" font-size="8" fill="#e8e8e8" stroke="#e8e8e8" stroke-width="0.2" text-anchor="end" textLength="29" lengthAdjust="spacingAndGlyphs">6.2 mm<tspan font-size="5" dy="-2.6">2</tspan></text>
<g clip-path="url(#cp_c12)">
<g filter="url(#speck)">
<rect x="139" y="263" width="101.5" height="66" fill="#0d0d0d"/>

<rect x="139" y="263" width="102" height="21" fill="#363636" filter="url(#bl2)"/>
<ellipse cx="205" cy="274" rx="28" ry="10" fill="#4a4a4a" filter="url(#bl3)"/>
<ellipse cx="232" cy="290" rx="8" ry="14" fill="#141414" filter="url(#bl3)"/>
<ellipse cx="164" cy="300" rx="6" ry="20" fill="#0c0c0c" filter="url(#bl3)"/>
<ellipse cx="155" cy="275" rx="4" ry="1.6" fill="#5a5a5a" filter="url(#bl1)"/>
<ellipse cx="145" cy="284.5" rx="5" ry="1.8" fill="#555" filter="url(#bl1)"/>
<ellipse cx="144" cy="289" rx="4" ry="1.5" fill="#404040" filter="url(#bl1)"/>
<ellipse cx="155" cy="300" rx="4" ry="5" fill="none" stroke="#262626" stroke-width="1.5" filter="url(#bl2)"/>
<path d="M145,312 Q160,311 176,313" stroke="#3a3a3a" stroke-width="1.6" fill="none" filter="url(#bl1)"/>
<ellipse cx="198" cy="299" rx="24" ry="10" fill="#2c2c2c" filter="url(#bl2)"/>
<path d="M178,296 Q200,293 222,296 M180,303 Q200,301 220,303" stroke="#3c3c3c" stroke-width="1.2" fill="none" filter="url(#bl1)"/>
<path d="M225,305 Q232,302 241,300" stroke="#303030" stroke-width="3" fill="none" filter="url(#bl1)"/>

</g>
<path d="M172.40,301.50 C172.70,299.37 173.42,294.85 175.10,292.80 C176.78,290.75 178.58,290.10 182.50,289.20 C186.42,288.30 193.67,287.92 198.60,287.40 C203.53,286.88 208.28,285.77 212.10,286.10 C215.92,286.43 219.25,287.72 221.50,289.40 C223.75,291.08 225.37,293.73 225.60,296.20 C225.83,298.67 224.70,302.08 222.90,304.20 C221.10,306.32 218.17,307.67 214.80,308.90 C211.43,310.13 207.18,311.08 202.70,311.60 C198.22,312.12 191.93,312.45 187.90,312.00 C183.87,311.55 180.93,309.97 178.50,308.90 C176.07,307.83 174.32,306.83 173.30,305.60 C172.28,304.37 172.10,303.63 172.40,301.50 Z" fill="none" stroke="#e8e8e8" stroke-width="1.4" stroke-dasharray="3.6,2.2"/>
<rect x="139.5" y="263.5" width="100.5" height="65" fill="none" stroke="#000" stroke-width="1"/>
</g>
<text x="236.4" y="326.4" font-size="8" fill="#e8e8e8" stroke="#e8e8e8" stroke-width="0.2" text-anchor="end" textLength="28" lengthAdjust="spacingAndGlyphs">6.5 mm<tspan font-size="5" dy="-2.6">2</tspan></text>
<g clip-path="url(#cp_c21)">
<g filter="url(#speck)">
<rect x="37" y="330.5" width="100.5" height="64.5" fill="#0d0d0d"/>

<rect x="37" y="330.5" width="101" height="16" fill="#626262" filter="url(#bl2)"/>
<ellipse cx="80" cy="338" rx="35" ry="6" fill="#6e6e6e" filter="url(#bl3)"/>
<path d="M37,353 Q70,349 100,343 T138,340" stroke="#505050" stroke-width="7" fill="none" filter="url(#bl2)"/>
<path d="M37,345 Q70,342 105,337" stroke="#3a3a3a" stroke-width="1.5" fill="none" filter="url(#bl1)"/>
<ellipse cx="45" cy="366" rx="8" ry="13" fill="#343434" filter="url(#bl3)"/>
<path d="M37,387 Q70,381 100,380 T137,377" stroke="#3e3e3e" stroke-width="4" fill="none" filter="url(#bl2)"/>
<path d="M40,383 Q60,378 80,381" stroke="#6a6a6a" stroke-width="1.6" fill="none" filter="url(#bl1)"/>
<path d="M60,390 Q90,386 120,388" stroke="#3a3a3a" stroke-width="1.5" fill="none" filter="url(#bl1)"/>
<ellipse cx="125" cy="372" rx="13" ry="9" fill="#2a2a2a" filter="url(#bl3)"/>
<path d="M59,366 Q80,362 125,350 L126,352 Q100,366 60,376 Z" fill="#121212" filter="url(#bl2)"/>

</g>
<path d="M56.20,367.80 C56.67,365.88 57.32,363.12 59.00,361.20 C60.68,359.28 62.90,357.25 66.30,356.30 C69.70,355.35 75.03,356.03 79.40,355.50 C83.77,354.97 88.42,354.32 92.50,353.10 C96.58,351.88 100.08,349.52 103.90,348.20 C107.72,346.88 111.85,345.53 115.40,345.20 C118.95,344.87 122.62,345.02 125.20,346.20 C127.78,347.38 130.63,350.20 130.90,352.30 C131.17,354.40 128.85,357.03 126.80,358.80 C124.75,360.57 122.13,361.13 118.60,362.90 C115.07,364.67 109.95,367.55 105.60,369.40 C101.25,371.25 96.87,372.85 92.50,374.00 C88.13,375.15 83.77,375.48 79.40,376.30 C75.03,377.12 69.70,378.82 66.30,378.90 C62.90,378.98 60.68,377.83 59.00,376.80 C57.32,375.77 56.67,374.20 56.20,372.70 C55.73,371.20 55.73,369.72 56.20,367.80 Z" fill="none" stroke="#e8e8e8" stroke-width="1.4" stroke-dasharray="3.6,2.2"/>
<rect x="37.5" y="331.0" width="99.5" height="63.5" fill="none" stroke="#000" stroke-width="1"/>
</g>
<text x="134.3" y="392.2" font-size="8" fill="#e8e8e8" stroke="#e8e8e8" stroke-width="0.2" text-anchor="end" textLength="30.4" lengthAdjust="spacingAndGlyphs">10.5 mm<tspan font-size="5" dy="-2.6">2</tspan></text>
<g clip-path="url(#cp_c22)">
<g filter="url(#speck)">
<rect x="139" y="330.5" width="101.5" height="64.5" fill="#0d0d0d"/>

<rect x="139" y="330.5" width="102" height="16" fill="#1e1e1e" filter="url(#bl2)"/>
<path d="M139,356 Q175,351.5 205,346 Q222,343.5 241,343.5" stroke="#2e2e2e" stroke-width="5" fill="none" filter="url(#bl2)"/>
<path d="M139,355.5 Q175,351 205,345.5 Q215,344 222,344" stroke="#8a8a8a" stroke-width="1.7" fill="none" filter="url(#bl1)"/>
<path d="M222,344 Q232,343 241,343" stroke="#5a5a5a" stroke-width="1.5" fill="none" filter="url(#bl1)"/>
<ellipse cx="226" cy="362" rx="14" ry="14" fill="#242424" filter="url(#bl3)"/>
<ellipse cx="180" cy="379" rx="22" ry="3" fill="#232323" filter="url(#bl2)"/>
<ellipse cx="215" cy="385" rx="20" ry="3" fill="#1e1e1e" filter="url(#bl2)"/>

</g>
<rect x="139.5" y="331.0" width="100.5" height="63.5" fill="none" stroke="#000" stroke-width="1"/>
</g>
<g clip-path="url(#cp_f11)">
<rect x="294.7" y="501" width="97.1" height="72.5" fill="#ece8ea"/>
<rect x="372" y="501" width="23" height="73" fill="#e3dede" filter="url(#bl3)"/>
<g filter="url(#mot)">

<ellipse cx="304" cy="532" rx="8" ry="22" fill="#e2ccd4" filter="url(#bl2)"/>
<ellipse cx="304" cy="520" rx="2.2" ry="5.5" fill="#a44a64" filter="url(#bl1)"/>
<circle cx="298" cy="532" r="2.6" fill="#a85a72" filter="url(#bl1)"/>
<circle cx="302.5" cy="541" r="3.3" fill="#9a5e80"/>
<circle cx="302.5" cy="541" r="1.6" fill="#f2eaf0"/>
<circle cx="300" cy="551" r="2" fill="#c08a9a" filter="url(#bl1)"/>
<ellipse cx="360" cy="508" rx="14" ry="6" fill="#dcc2cc" filter="url(#bl2)"/>
<ellipse cx="315" cy="505" rx="10" ry="4" fill="#dcc4cc" filter="url(#bl2)"/>
<path d="M356,563 Q348,573 332,573 Q318,571 310,561" stroke="#c0a8c4" stroke-width="3" fill="none" filter="url(#bl1)"/>
<ellipse cx="338" cy="538" rx="28.5" ry="34.5" fill="#c4a8c4" filter="url(#bl1)"/>
<ellipse cx="338" cy="538" rx="27" ry="33" fill="#98a0cc" filter="url(#bl1)"/>
<ellipse cx="364" cy="541" rx="10" ry="17" fill="#9096c6" filter="url(#bl1)"/>
<ellipse cx="340" cy="537" rx="20" ry="26" fill="#958ac2" filter="url(#bl2)"/>
<ellipse cx="341" cy="538" rx="14" ry="20" fill="#ae9cc6" filter="url(#bl2)"/>
<path d="M345,521 L346.9,522.6 L345.8,528.7 L346.5,534.7 L347.3,540.8 L342.7,543.8 L338.9,549.9 L336.7,557.5 L332.9,557.5 L328.3,547.6 L327.2,540.8 L331.4,533.2 L339.7,527.2 Z" fill="#e07080" filter="url(#bl1)"/>
<path d="M344,523 L345,529 L345,536 L341,541 L337,548 L335,555 L333,554 L330,546 L330,540 L334,535 L340,529 Z" fill="#c81e30" filter="url(#bl1)"/>
<path d="M334,512.5 Q320,522 318,538 Q317,546 318.5,551" stroke="#fcfafc" stroke-width="1.6" fill="none"/>
<ellipse cx="366.4" cy="541" rx="6" ry="10" fill="#7c74ac" transform="rotate(25 366.4 541)"/>
<ellipse cx="366.4" cy="541" rx="3" ry="7" fill="#f8f2f4" transform="rotate(25 366.4 541)"/>
<circle cx="366" cy="517" r="3.4" fill="#6a6aa0" filter="url(#bl1)"/>
<circle cx="373.3" cy="518.2" r="3.3" fill="#b05a78"/>
<circle cx="373.3" cy="518.2" r="1.5" fill="#f4eaee"/>
<circle cx="381.8" cy="527.3" r="2" fill="#b47a90" filter="url(#bl1)"/>
<circle cx="346" cy="563" r="2.6" fill="#f6f0f4" stroke="#a06088" stroke-width="1"/>
<circle cx="366" cy="559" r="2" fill="#b06a80" filter="url(#bl1)"/>
<circle cx="328" cy="568" r="2" fill="#f0e8f0"/>

</g>
<rect x="294.7" y="501" width="97.1" height="72.5" filter="url(#wsp)" opacity="0.5"/>
</g>
<line x1="374.0" y1="566.6" x2="388.0" y2="566.6" stroke="#111" stroke-width="2.1" />
<g clip-path="url(#cp_f12)">
<rect x="397.3" y="501" width="97.2" height="72.5" fill="#dbd5d3"/>
<path d="M397,501 L451,501 Q453,512 456.4,518.2 Q462,521 467.7,521 Q476,524 484.8,526.7 Q490,524 495,521 L495,574 L397,574 Z" fill="#e8e0e4"/>
<g filter="url(#mot)">

<ellipse cx="405" cy="522" rx="10" ry="20" fill="#dcc0c8" filter="url(#bl2)"/>
<circle cx="402.8" cy="511.4" r="2.8" fill="#a04050" filter="url(#bl1)"/>
<circle cx="408" cy="528" r="2" fill="#b06070" filter="url(#bl1)"/>
<circle cx="404" cy="538" r="1.6" fill="#b07080" filter="url(#bl1)"/>
<ellipse cx="472" cy="566" rx="28" ry="12" fill="#d0acae" filter="url(#bl2)"/>
<ellipse cx="488" cy="545" rx="8" ry="16" fill="#dcc4c8" filter="url(#bl2)"/>
<ellipse cx="455" cy="558" rx="9" ry="6" fill="#8a86b8" filter="url(#bl2)"/>
<path d="M450.7,501 Q452,510 456.4,518.2 Q462,521 467.7,521 Q476,524 484.8,526.7 Q488,525 492,522" stroke="#7a5a88" stroke-width="1.3" fill="none" filter="url(#bl1)"/>
<path d="M418,512 Q430,503 446,505" stroke="#8a7aa8" stroke-width="1.6" fill="none" filter="url(#bl1)"/>
<path d="M440,503 Q452,508 457,518 Q465,523 478,526 Q470,532 462,533 Q455,540 452,552 Q448,548 449,535 Q448,520 440,510 Z" fill="#f2eef0" filter="url(#bl1)"/>
<ellipse cx="431" cy="539" rx="24" ry="29.5" fill="#c8a8c0" filter="url(#bl1)"/>
<ellipse cx="431" cy="539" rx="22.5" ry="28" fill="#868ec0" filter="url(#bl1)"/>
<ellipse cx="432" cy="538" rx="19" ry="24.5" fill="#c2acc8" filter="url(#bl2)"/>
<path d="M428,519 L434,517 L437,524 L436,534 L441,541 L446,537 L449,543 L447,552 L439,554.5 L430,553 L426.7,545 L427,530 Z" fill="#e06a78" filter="url(#bl1)"/>
<path d="M429,521 L433,519 L435,527 L434,537 L440,544 L445,540 L447,545 L444,551 L438,552.5 L431,551 L428.5,543 L428.5,530 Z" fill="#d42630" filter="url(#bl1)"/>
<ellipse cx="470" cy="542" rx="10" ry="12.5" fill="#9a5a80" filter="url(#bl1)"/>
<ellipse cx="470" cy="542" rx="6" ry="8.2" fill="#f8f4f4"/>
<circle cx="491" cy="514.8" r="2.8" fill="#a05050" filter="url(#bl1)"/>
<circle cx="455.8" cy="505" r="2" fill="#8a5a6a" filter="url(#bl1)"/>
<circle cx="479" cy="560" r="2.3" fill="#f6f0f2" stroke="#8a6a8a" stroke-width="1"/>
<circle cx="424" cy="568" r="2" fill="#f6f0f2"/>

</g>
<rect x="397.3" y="501" width="97.2" height="72.5" filter="url(#wsp)" opacity="0.5"/>
</g>
<line x1="475.1" y1="566.7" x2="488.8" y2="566.7" stroke="#111" stroke-width="2.1" />
<g clip-path="url(#cp_f21)">
<rect x="294.7" y="578.5" width="97.1" height="73" fill="#e4dfe0"/>
<rect x="362" y="578" width="33" height="24" fill="#e2dedd"/>
<g filter="url(#mot)">

<rect x="294" y="590" width="12" height="62" fill="#dcc6cc" filter="url(#bl1)"/>
<path d="M295,585 Q300,580 308,580 Q314,578 320,580 Q326,578 332,580 Q338,579 344,582 L343,585 Q336,583 328,584 Q318,585 306,588 Q300,590 297,594 Z" fill="#a82848" filter="url(#bl1)"/>
<path d="M298,590 Q305,586 312,586" stroke="#d8b0bc" stroke-width="2" fill="none" filter="url(#bl1)"/>
<path d="M344,582 Q352,583 360,587" stroke="#c08098" stroke-width="2" fill="none" filter="url(#bl1)"/>
<ellipse cx="380" cy="624" rx="13" ry="26" fill="#dcc2ca" filter="url(#bl2)"/>
<path d="M388.6,600 Q390,625 386,650" stroke="#a04060" stroke-width="1.4" fill="none" filter="url(#bl1)"/>
<ellipse cx="329" cy="617" rx="28" ry="31.5" fill="#c8a8c0" filter="url(#bl1)"/>
<ellipse cx="329" cy="617" rx="26.5" ry="30" fill="#848ac2" filter="url(#bl1)"/>
<ellipse cx="371" cy="619" rx="13" ry="21" fill="#7078b8" filter="url(#bl1)"/>
<ellipse cx="330" cy="616" rx="22.5" ry="26" fill="none" stroke="#f4eef4" stroke-width="1.1"/>
<ellipse cx="331" cy="615.5" rx="20.5" ry="25" fill="#c42838" filter="url(#bl1)"/>
<path d="M318,600 L330,612 M340,596 L336,610 M322,625 L334,630 M340,620 L348,630 M316,615 L324,618" stroke="#e8707c" stroke-width="1" filter="url(#bl1)"/>
<path d="M358,630 Q356,637 351,641" stroke="#f8f2f4" stroke-width="1.5" fill="none"/>
<rect x="365.5" y="608.5" width="12" height="18" rx="3" fill="#c89c86" stroke="#f6f0ee" stroke-width="1.5" transform="rotate(6 371.5 617.5)"/>
<circle cx="340" cy="578" r="0" fill="#fff"/>

</g>
<rect x="294.7" y="578.5" width="97.1" height="73" filter="url(#wsp)" opacity="0.5"/>
</g>
<line x1="374.4" y1="642.7" x2="388.6" y2="642.7" stroke="#111" stroke-width="2.1" />
<g clip-path="url(#cp_f22)">
<rect x="397.3" y="578.5" width="97.2" height="73" fill="#dedad9"/>

<g filter="url(#mot)">

<path d="M400,578 L486,578 L487,652 L400,652 Z" fill="#dcc2c4"/>
<ellipse cx="470" cy="583" rx="9" ry="5" fill="#d6a494" filter="url(#bl2)"/>
<ellipse cx="480" cy="632" rx="11" ry="24" fill="#d29888" filter="url(#bl3)"/>
<ellipse cx="452" cy="645" rx="20" ry="8" fill="#d4a090" filter="url(#bl3)"/>
<circle cx="484.2" cy="585.5" r="4" fill="#a05060" filter="url(#bl1)"/>
<circle cx="490.5" cy="591" r="1.2" fill="#402030"/>
<path d="M402,600 Q404,584 420,581 Q440,578 455,590 Q462,598 460,615 Q462,632 452,645 Q436,653 418,648 Q402,640 400,622 Z" fill="#6c76b2" filter="url(#bl1)"/>
<ellipse cx="436" cy="586" rx="20" ry="7" fill="#a07ab0" filter="url(#bl2)"/>
<ellipse cx="433" cy="620" rx="22" ry="24" fill="#7a66a6" filter="url(#bl2)"/>
<ellipse cx="433" cy="617" rx="13" ry="14" fill="#5c68ae" filter="url(#bl2)"/>
<ellipse cx="433" cy="615" rx="4" ry="4" fill="#a86878" filter="url(#bl1)"/>
<path d="M410,594 Q418,590 422,598 Q424,608 418,618 Q412,620 409,612 Z" fill="#b8444a" filter="url(#bl1)"/>
<ellipse cx="421" cy="632" rx="7" ry="5" fill="#9a5070" filter="url(#bl2)"/>
<ellipse cx="442" cy="638" rx="9" ry="5" fill="#946080" filter="url(#bl2)"/>
<path d="M452,604 Q466,596 477,603 Q481,614 474,626 Q464,640 446,645" stroke="#5e50a0" stroke-width="6.5" fill="none" filter="url(#bl1)"/>
<path d="M472.3,605.4 Q467,603 462,607 Q460,612 464,617 Q467,622 465.5,628" stroke="#f2d6c4" stroke-width="2.6" fill="none" stroke-linecap="round"/>
<circle cx="433" cy="587" r="2.2" fill="#f4eef0"/>
<circle cx="424" cy="583" r="1.6" fill="#f4eef0"/>
<circle cx="425" cy="647" r="2.5" fill="#f4eef0"/>
<path d="M447,632 L455,640 M451,628 L459,636" stroke="#f0ecf2" stroke-width="1.2"/>
<path d="M436,599 L444,602" stroke="#f4eef2" stroke-width="1.5"/>

</g>
<rect x="397.3" y="578.5" width="97.2" height="73" filter="url(#wsp)" opacity="0.5"/>
</g>
<line x1="474.8" y1="642.7" x2="488.8" y2="642.7" stroke="#111" stroke-width="2.1" />
<rect x="0" y="0" width="520" height="1.3" fill="#000"/>
<rect x="0" y="0" width="1.5" height="660" fill="#000"/>
<rect x="517.7" y="0" width="2.3" height="660" fill="#000"/>
<rect x="0" y="657.7" width="520" height="2.3" fill="#000"/>
</svg>
</body></html>
